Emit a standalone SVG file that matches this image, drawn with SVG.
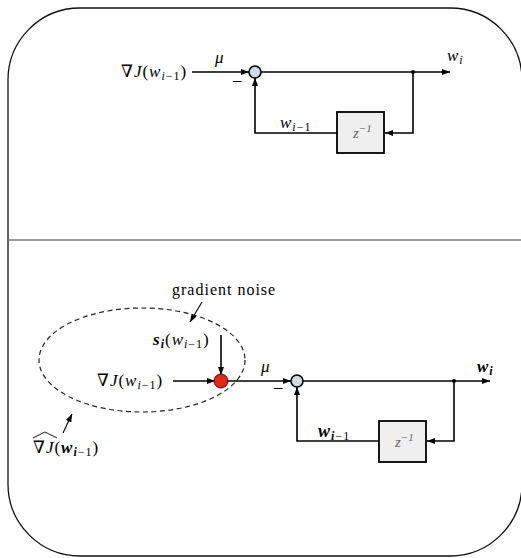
<svg xmlns="http://www.w3.org/2000/svg" width="521" height="558" viewBox="0 0 521 558">
<defs>
<marker id="ah" markerWidth="8" markerHeight="6" refX="8" refY="3" orient="auto" markerUnits="userSpaceOnUse">
<path d="M0,0 L8,3 L0,6 Z" fill="#000"/>
</marker>
<style>
.ln{fill:none;stroke:#000;stroke-width:1.6}
.t{font-family:"Liberation Serif","DejaVu Serif",serif;font-size:17px;fill:#000;letter-spacing:1px}
.m{font-style:italic}
.b{font-weight:bold;font-style:italic}
.sub{font-size:12px}
.sum{fill:#d3d9e3;stroke:#000;stroke-width:1.6}
.box{fill:#efefef;stroke:#000;stroke-width:1.8}
.zt{font-family:"Liberation Serif","DejaVu Serif",serif;font-style:italic;font-size:15px;fill:#666}
.gn{font-family:"Liberation Serif","DejaVu Serif",serif;font-size:16px;fill:#000;letter-spacing:1px}
</style>
</defs>
<rect width="521" height="558" fill="#fff"/>
<rect x="8" y="8" width="514" height="548" rx="72" ry="72" fill="none" stroke="#111" stroke-width="1.3"/>
<line x1="8" y1="240" x2="521" y2="240" stroke="#777" stroke-width="1.6"/>

<g id="connectors">
<line class="ln" x1="192" y1="72" x2="249" y2="72" marker-end="url(#ah)"/>
<line class="ln" x1="261" y1="72" x2="450" y2="72" marker-end="url(#ah)"/>
<path class="ln" d="M413,72 V133 H385" marker-end="url(#ah)"/>
<path class="ln" d="M337,133 H255 V78" marker-end="url(#ah)"/>
<circle cx="413" cy="72" r="2" fill="#000"/>

<line class="ln" x1="173" y1="381" x2="215" y2="381" marker-end="url(#ah)"/>
<line class="ln" x1="221" y1="335" x2="221" y2="375" marker-end="url(#ah)"/>
<line class="ln" x1="227" y1="381" x2="291" y2="381" marker-end="url(#ah)"/>
<line class="ln" x1="303" y1="381" x2="490" y2="381" marker-end="url(#ah)"/>
<path class="ln" d="M454,381 V441 H427" marker-end="url(#ah)"/>
<path class="ln" d="M379,441 H297 V387" marker-end="url(#ah)"/>
<circle cx="454" cy="381" r="2" fill="#000"/>
<line x1="202" y1="302" x2="190" y2="322" stroke="#000" stroke-width="1.1" marker-end="url(#ah)"/>
<line x1="63" y1="433" x2="72" y2="414" stroke="#000" stroke-width="1.1" marker-end="url(#ah)"/>
</g>

<g id="top-sum"><circle class="sum" cx="255" cy="72" r="6"/></g>
<g id="top-delay">
<rect class="box" x="337" y="112" width="47" height="41"/>
<text class="zt" x="353" y="138">z<tspan font-size="11px" dy="-6">−1</tspan></text>
</g>
<g id="top-labels">
<text class="t" x="121" y="77" letter-spacing="1.6">∇<tspan class="m">J</tspan>(<tspan class="m">w</tspan><tspan class="sub m" dy="3">i</tspan><tspan class="sub">−1</tspan><tspan dy="-3">)</tspan></text>
<text class="t m" x="215" y="63">μ</text>
<text class="t" x="233" y="85">–</text>
<text class="t m" x="447" y="61">w<tspan class="sub" dy="3">i</tspan></text>
<text class="t m" x="280" y="128" letter-spacing="2">w<tspan class="sub" dy="3">i</tspan><tspan class="sub" font-style="normal">−1</tspan></text>
</g>

<g id="noise-ellipse">
<ellipse cx="142" cy="360" rx="103" ry="52" fill="none" stroke="#222" stroke-width="1.2" stroke-dasharray="5,3.5"/>
</g>
<g id="noise-sum"><circle cx="221" cy="381" r="7" fill="#e1261c" stroke="#600" stroke-width="1"/></g>
<g id="bottom-sum"><circle class="sum" cx="297" cy="381" r="6"/></g>
<g id="bottom-delay">
<rect class="box" x="379" y="421" width="47" height="41"/>
<text class="zt" x="395" y="447">z<tspan font-size="11px" dy="-6">−1</tspan></text>
</g>
<g id="bottom-labels">
<text class="gn" x="172" y="295">gradient noise</text>
<text class="t" x="153" y="345"><tspan class="b">s</tspan><tspan class="sub b" dy="3">i</tspan><tspan dy="-3">(</tspan><tspan class="m">w</tspan><tspan class="sub m" dy="3">i</tspan><tspan class="sub">−1</tspan><tspan dy="-3">)</tspan></text>
<text class="t" x="97" y="386">∇<tspan class="m">J</tspan>(<tspan class="m">w</tspan><tspan class="sub m" dy="3">i</tspan><tspan class="sub">−1</tspan><tspan dy="-3">)</tspan></text>
<text class="t m" x="261" y="372">μ</text>
<text class="t" x="274" y="392">–</text>
<text class="t b" x="477" y="372" font-size="19">w<tspan dy="3" font-size="12">i</tspan></text>
<text class="t" x="318" y="437" letter-spacing="1.6"><tspan class="b" font-size="18">w</tspan><tspan class="sub b" dy="3">i</tspan><tspan class="sub">−1</tspan></text>
<path d="M33,438 L45,432 L57,438" fill="none" stroke="#000" stroke-width="0.9"/>
<text class="t" x="33" y="453" letter-spacing="0.6">∇<tspan class="m">J</tspan>(<tspan class="b">w</tspan><tspan class="sub b" dy="3">i</tspan><tspan class="sub">−1</tspan><tspan dy="-3">)</tspan></text>
</g>
</svg>
